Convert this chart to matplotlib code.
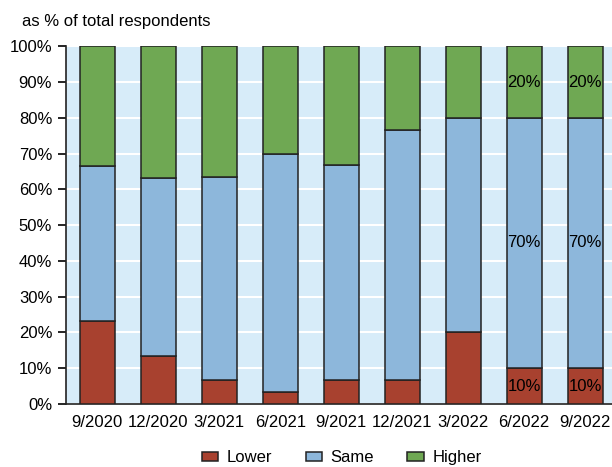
import numpy as np
import matplotlib.pyplot as plt

plt.rcParams['font.family'] = ['Liberation Sans', 'DejaVu Sans']

quarters = ["9/2020", "12/2020", "3/2021", "6/2021", "9/2021",
            "12/2021", "3/2022", "6/2022", "9/2022"]
lower = [23.3, 13.3, 6.7, 3.3, 6.7, 6.7, 20.0, 10.0, 10.0]
same = [43.3, 50.0, 56.7, 66.7, 60.0, 70.0, 60.0, 70.0, 70.0]
higher = [33.4, 36.7, 36.6, 30.0, 33.3, 23.3, 20.0, 20.0, 20.0]
labeled = [7, 8]  # bars with value labels

c_lower = "#a8412f"
c_same = "#8db7db"
c_higher = "#6fa853"
fs = 12

fig = plt.figure(figsize=(6.12, 4.67), dpi=100)
ax = fig.add_axes([0.108, 0.135, 0.892, 0.766])
ax.set_facecolor("#d7ecf9")

x = np.arange(len(quarters))
w = 0.57
b1 = ax.bar(x, lower, w, color=c_lower, edgecolor="#222222", linewidth=1.1, label="Lower", zorder=3)
b2 = ax.bar(x, same, w, bottom=lower, color=c_same, edgecolor="#222222", linewidth=1.1, label="Same", zorder=3)
bot3 = np.array(lower) + np.array(same)
b3 = ax.bar(x, higher, w, bottom=bot3, color=c_higher, edgecolor="#222222", linewidth=1.1, label="Higher", zorder=3)

for i in labeled:
    ax.text(x[i], lower[i] / 2, f"{lower[i]:.0f}%", ha="center", va="center", fontsize=fs, zorder=4)
    ax.text(x[i], lower[i] + same[i] / 2, f"{same[i]:.0f}%", ha="center", va="center", fontsize=fs, zorder=4)
    ax.text(x[i], bot3[i] + higher[i] / 2, f"{higher[i]:.0f}%", ha="center", va="center", fontsize=fs, zorder=4)

ax.set_xlim(-0.51, 8.44)
ax.set_ylim(0, 100)
ax.set_yticks(range(0, 101, 10))
ax.set_yticklabels([f"{v}%" for v in range(0, 101, 10)])
ax.set_xticks(x)
ax.set_xticklabels(quarters)
ax.grid(axis="y", color="white", linewidth=1.5, zorder=1)
ax.tick_params(axis="y", direction="out", length=6, width=1.2, labelsize=fs, pad=4)
ax.tick_params(axis="x", length=0, labelsize=fs, pad=8)
for s in ["top", "right"]:
    ax.spines[s].set_visible(False)
for s in ["left", "bottom"]:
    ax.spines[s].set_linewidth(1.2)
    ax.spines[s].set_color("#222222")

fig.text(0.036, 0.955, "as % of total respondents", fontsize=fs, va="center")

ax.legend(handles=[b1, b2, b3], loc="center", bbox_to_anchor=(0.505, -0.15),
          ncol=3, frameon=False, fontsize=fs, handlelength=1.0, handleheight=0.45,
          columnspacing=2.0, handletextpad=0.5)

fig.savefig("out.png", dpi=100)
